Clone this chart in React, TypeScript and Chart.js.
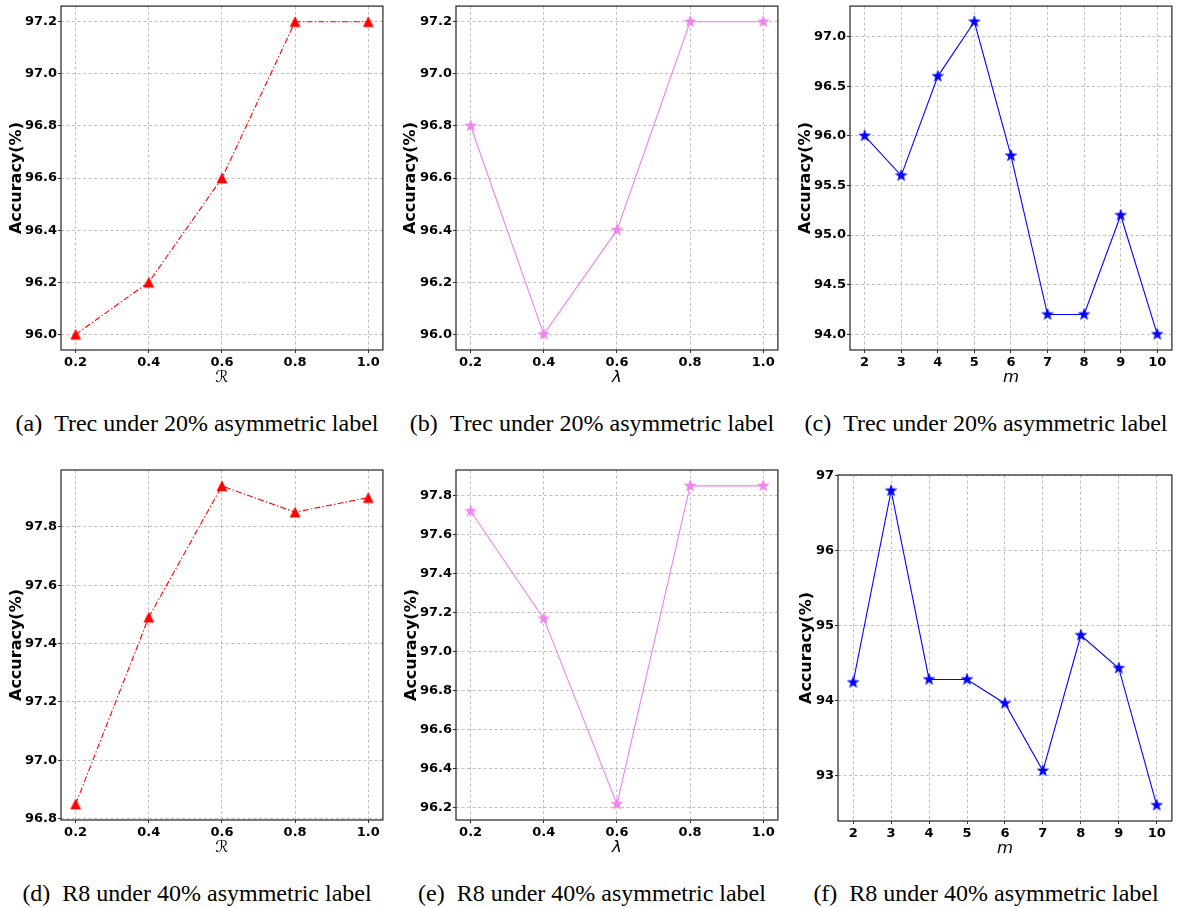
import React, { useEffect, useRef } from "react";
import { Chart, registerables } from "chart.js";
Chart.register(...registerables);

// ---------- data ----------
const ratioValues = [0.2, 0.4, 0.6, 0.8, 1.0];
const mValues = [2, 3, 4, 5, 6, 7, 8, 9, 10];

const trecR = [96.0, 96.2, 96.6, 97.2, 97.2];
const trecLambda = [96.8, 96.0, 96.4, 97.2, 97.2];
const trecM = [96.0, 95.6, 96.6, 97.15, 95.8, 94.2, 94.2, 95.2, 94.0];
const r8R = [96.85, 97.49, 97.94, 97.85, 97.9];
const r8Lambda = [97.72, 97.17, 96.22, 97.85, 97.85];
const r8M = [94.24, 96.8, 94.28, 94.28, 93.96, 93.06, 94.87, 94.43, 92.6];

const trecRTicks = [96.0, 96.2, 96.4, 96.6, 96.8, 97.0, 97.2];
const trecLambdaTicks = [96.0, 96.2, 96.4, 96.6, 96.8, 97.0, 97.2];
const trecMTicks = [94.0, 94.5, 95.0, 95.5, 96.0, 96.5, 97.0];
const r8RTicks = [96.8, 97.0, 97.2, 97.4, 97.6, 97.8];
const r8LambdaTicks = [96.2, 96.4, 96.6, 96.8, 97.0, 97.2, 97.4, 97.6, 97.8];
const r8MTicks = [93, 94, 95, 96, 97];

const yTitle = "Accuracy(%)";
const xTitles = ["\u211B", "\u03BB", "m"];
const captionLabels = ["(a)", "(b)", "(c)", "(d)", "(e)", "(f)"];
const captionTexts = [
  "Trec under 20% asymmetric label",
  "Trec under 20% asymmetric label",
  "Trec under 20% asymmetric label",
  "R8 under 40% asymmetric label",
  "R8 under 40% asymmetric label",
  "R8 under 40% asymmetric label",
];

// ---------- layout / style ----------
type Panel = {
  xs: number[]; ys: number[]; yTicks: number[]; xTitle: string;
  color: string; marker: "tri" | "star"; dash: number[]; decimals: number;
  cl: number; ct: number; pl: number; pr: number; pt: number; pb: number;
  capX: number; capY: number;
};

const RED = "#ff0000";
const VIOLET = "#ee82ee";
const BLUE = "#0000ff";
const DASHDOT = [6, 2.2, 1.4, 2.2];

const panels: Panel[] = [
  { xs: ratioValues, ys: trecR, yTicks: trecRTicks, xTitle: xTitles[0], color: RED, marker: "tri", dash: DASHDOT, decimals: 1, cl: 0, ct: 0, pl: 61, pr: 385, pt: 1, pb: 350, capX: 197, capY: 423 },
  { xs: ratioValues, ys: trecLambda, yTicks: trecLambdaTicks, xTitle: xTitles[1], color: VIOLET, marker: "star", dash: [], decimals: 1, cl: 394, ct: 0, pl: 456, pr: 780, pt: 1, pb: 350, capX: 592, capY: 423 },
  { xs: mValues, ys: trecM, yTicks: trecMTicks, xTitle: xTitles[2], color: BLUE, marker: "star", dash: [], decimals: 1, cl: 789, ct: 0, pl: 850, pr: 1174, pt: 1, pb: 350, capX: 986, capY: 423 },
  { xs: ratioValues, ys: r8R, yTicks: r8RTicks, xTitle: xTitles[0], color: RED, marker: "tri", dash: DASHDOT, decimals: 1, cl: 0, ct: 460, pl: 61, pr: 385, pt: 470, pb: 820, capX: 197, capY: 893 },
  { xs: ratioValues, ys: r8Lambda, yTicks: r8LambdaTicks, xTitle: xTitles[1], color: VIOLET, marker: "star", dash: [], decimals: 1, cl: 395, ct: 460, pl: 456, pr: 780, pt: 470, pb: 820, capX: 592, capY: 893 },
  { xs: mValues, ys: r8M, yTicks: r8MTicks, xTitle: xTitles[2], color: BLUE, marker: "star", dash: [], decimals: 0, cl: 790, ct: 460, pl: 838, pr: 1174, pt: 475, pb: 821, capX: 986, capY: 893 },
];

const X_AXIS_H = 45;
const RIGHT_PAD = 4;
const TICK_FONT = { family: "'DejaVu Sans', sans-serif", size: 13, weight: "bold" as const };
const TITLE_FONT = { family: "'DejaVu Sans', sans-serif", size: 16, weight: "bold" as const };
const XTITLE_FONT = { family: "'DejaVu Sans', sans-serif", size: 16.5, style: "italic" as const };

function makeMarker(kind: "tri" | "star", color: string): HTMLCanvasElement {
  const size = 16;
  const c = document.createElement("canvas");
  c.width = size;
  c.height = size;
  const ctx = c.getContext("2d")!;
  const cx = size / 2, cy = size / 2;
  ctx.beginPath();
  if (kind === "tri") {
    const h = 5;
    ctx.moveTo(cx, cy - h);
    ctx.lineTo(cx + h, cy + h);
    ctx.lineTo(cx - h, cy + h);
  } else {
    const outer = 6, inner = 2.4;
    for (let i = 0; i < 10; i++) {
      const r = i % 2 ? inner : outer;
      const a = -Math.PI / 2 + (i * Math.PI) / 5;
      const x = cx + r * Math.cos(a);
      const y = cy + r * Math.sin(a);
      if (i === 0) ctx.moveTo(x, y);
      else ctx.lineTo(x, y);
    }
  }
  ctx.closePath();
  ctx.fillStyle = color;
  ctx.fill();
  ctx.strokeStyle = color;
  ctx.lineWidth = 0.6;
  ctx.stroke();
  return c;
}

const framePlugin = {
  id: "frame",
  afterDatasetsDraw(chart: any) {
    const { ctx, chartArea: a } = chart;
    ctx.save();
    ctx.strokeStyle = "#333333";
    ctx.lineWidth = 1.3;
    ctx.strokeRect(a.left, a.top, a.right - a.left, a.bottom - a.top);
    ctx.restore();
  },
};

function range(vals: number[]) {
  const lo = Math.min(...vals), hi = Math.max(...vals);
  const m = (hi - lo) * 0.05;
  return { min: lo - m, max: hi + m };
}

function PanelChart({ p }: { p: Panel }) {
  const ref = useRef<HTMLCanvasElement>(null);
  const width = p.pr + RIGHT_PAD - p.cl;
  const height = p.pb + X_AXIS_H - p.ct;

  useEffect(() => {
    if (!ref.current) return;
    const xr = range(p.xs);
    const yr = range(p.ys);
    const marker = makeMarker(p.marker, p.color);
    const chart = new Chart(ref.current, {
      type: "line",
      data: {
        datasets: [
          {
            data: p.xs.map((x, i) => ({ x, y: p.ys[i] })),
            borderColor: p.color,
            backgroundColor: p.color,
            borderWidth: 1.1,
            borderDash: p.dash,
            pointStyle: marker as any,
            pointRadius: 5,
            pointHoverRadius: 5,
            tension: 0,
            fill: false,
            clip: false as any,
          },
        ],
      },
      options: {
        responsive: false,
        animation: false,
        events: [],
        layout: { padding: { left: 0, top: p.pt - p.ct, right: RIGHT_PAD, bottom: 0 } },
        plugins: { legend: { display: false }, tooltip: { enabled: false } },
        scales: {
          x: {
            type: "linear",
            min: xr.min,
            max: xr.max,
            afterBuildTicks: (ax: any) => {
              ax.ticks = p.xs.map((v) => ({ value: v }));
            },
            afterFit: (s: any) => {
              s.height = X_AXIS_H;
              s.paddingLeft = 0;
              s.paddingRight = 0;
            },
            ticks: {
              autoSkip: false,
              maxRotation: 0,
              padding: 2,
              color: "#000",
              font: TICK_FONT,
              callback: (v: any) => (p.xs === mValues ? String(v) : Number(v).toFixed(1)),
            },
            grid: { color: "#b0b0b0", lineWidth: 0.8, tickLength: 3, tickColor: "#333", tickWidth: 1, tickBorderDash: [] },
            border: { display: false, dash: [3, 2.5] },
            title: { display: true, text: p.xTitle, color: "#000", font: XTITLE_FONT, padding: { top: 0, bottom: 7 } },
          },
          y: {
            type: "linear",
            min: yr.min,
            max: yr.max,
            afterBuildTicks: (ax: any) => {
              ax.ticks = p.yTicks.map((v) => ({ value: v }));
            },
            afterFit: (s: any) => {
              s.width = p.pl - p.cl;
              s.paddingTop = 0;
              s.paddingBottom = 0;
            },
            ticks: {
              autoSkip: false,
              padding: 1,
              color: "#000",
              font: TICK_FONT,
              callback: (v: any) => Number(v).toFixed(p.decimals),
            },
            grid: { color: "#b0b0b0", lineWidth: 0.8, tickLength: 3, tickColor: "#333", tickWidth: 1, tickBorderDash: [] },
            border: { display: false, dash: [3, 2.5] },
            title: { display: true, text: yTitle, color: "#000", font: TITLE_FONT, padding: { top: 7, bottom: 0 } },
          },
        },
      },
      plugins: [framePlugin],
    });
    return () => chart.destroy();
  }, [p]);

  return (
    <canvas
      ref={ref}
      width={width}
      height={height}
      style={{ position: "absolute", left: p.cl, top: p.ct, width, height }}
    />
  );
}

export default function App() {
  return (
    <div style={{ position: "absolute", left: 0, top: 0, width: 1178, height: 908, overflow: "hidden", background: "#fff" }}>
      {panels.map((p, i) => (
        <PanelChart key={i} p={p} />
      ))}
      {panels.map((p, i) => (
        <div
          key={"c" + i}
          style={{
            position: "absolute",
            left: p.capX - 220,
            top: p.capY - 15,
            width: 440,
            height: 30,
            lineHeight: "30px",
            textAlign: "center",
            fontFamily: "'Liberation Serif', 'Times New Roman', serif",
            fontSize: 24,
            color: "#000",
            whiteSpace: "nowrap",
          }}
        >
          <span style={{ marginRight: 12 }}>{captionLabels[i]}</span>
          <span>{captionTexts[i]}</span>
        </div>
      ))}
    </div>
  );
}
